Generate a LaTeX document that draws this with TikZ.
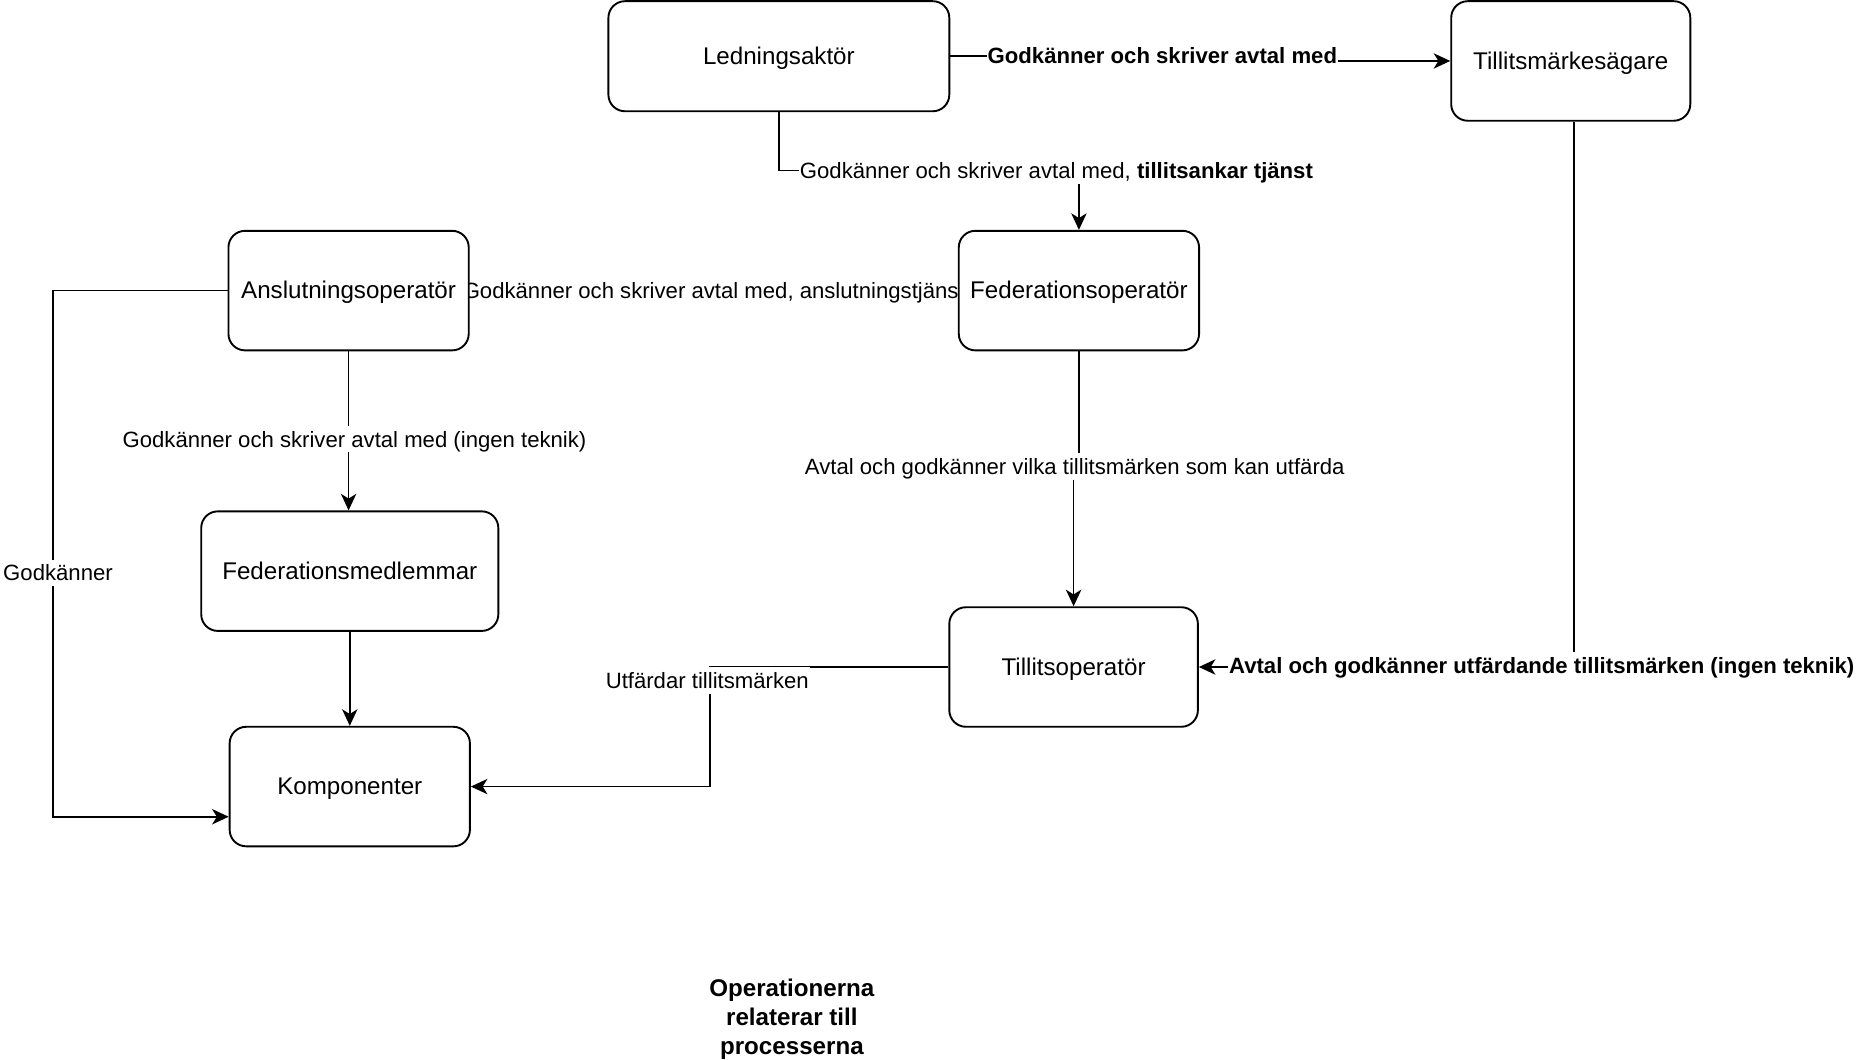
\documentclass[tikz,border=0pt]{standalone}
\usepackage{fontspec}
\setmainfont{Liberation Sans}
\usetikzlibrary{arrows.meta,backgrounds}
\begin{document}
\begin{tikzpicture}[x=1pt,y=-1pt,
  box/.style={draw, line width=1.6pt, rounded corners=14pt, fill=white, inner sep=0pt,
    text height=16pt, text depth=2.4pt,
    font=\fontsize{20.4}{24.5}\selectfont},
  conn/.style={line width=1.4pt},
  arr/.style={conn, -{Stealth[length=14pt,width=13pt,inset=4pt]}},
  lbl/.style={fill=white, inner sep=1pt, text height=17pt, text depth=3.4pt,
    font=\fontsize{18.7}{22}\selectfont},
  lblb/.style={lbl, font=\fontsize{18.7}{22}\selectfont\bfseries},
  note/.style={align=center, font=\fontsize{20.4}{24.5}\selectfont\bfseries}]
\useasboundingbox (0,0) rectangle (1568,895);

\node[box, minimum width=288pt, minimum height=93pt] (led) at (658,47.5) {Ledningsaktör};
\node[box, minimum width=202pt, minimum height=101pt] (tma) at (1327,51.5) {Tillitsmärkesägare};
\node[box, minimum width=203pt, minimum height=101pt] (fed) at (911.5,245.5) {Federationsoperatör};
\node[box, minimum width=203pt, minimum height=101pt] (ans) at (294.5,245.5) {Anslutningsoperatör};
\node[box, minimum width=251pt, minimum height=101pt] (fm) at (295.5,482.5) {Federationsmedlemmar};
\node[box, minimum width=203pt, minimum height=101pt] (komp) at (295.5,664.5) {Komponenter};
\node[box, minimum width=210pt, minimum height=101pt] (to) at (907,563.5) {Tillitsoperatör};
\node[note] (ops) at (669,861) {Operationerna\\relaterar till\\processerna};

% Ledningsaktör -> Tillitsmärkesägare
\draw[arr] (led.east) -- ++(180,0) |- (tma.west);
\node[lblb] (l1) at (982,46.5) {Godkänner och skriver avtal med};

% Ledningsaktör -> Federationsoperatör
\coordinate (b2) at (fed.north |- 0,144);
\draw[arr] (led.south) |- (b2) -- (fed.north);
\node[lbl] (l2) at (892.5,144) {Godkänner och skriver avtal med, \textbf{tillitsankar tjänst}};

% Anslutningsoperatör -- Federationsoperatör (label hidden partly behind boxes)
\begin{pgfonlayer}{background}
\draw[conn] (ans) -- (fed) node[midway, lbl] (l3) {Godkänner och skriver avtal med, anslutningstjänst};
\end{pgfonlayer}

% Anslutningsoperatör -> Federationsmedlemmar
\draw[arr] (ans.south) -- (ans.south |- fm.north);
\node[lbl] (l4) at (299.5,371) {Godkänner och skriver avtal med (ingen teknik)};

% Federationsmedlemmar -> Komponenter
\draw[arr] (fm.south) -- (komp.north);

% Anslutningsoperatör -> Komponenter (left loop)
\coordinate (c6) at (45,245.5);
\draw[arr] (ans.west) -- (c6) |- ([yshift=-25.5pt]komp.west);
\node[lbl] (l6) at (49,484) {Godkänner};

% Federationsoperatör -> Tillitsoperatör
\coordinate (c7) at (fed.south |- 0,394);
\draw[arr] (fed.south) -- (c7) -- (to.north |- c7) -- (to.north);
\node[lbl] (l7) at (908,394) {Avtal och godkänner vilka tillitsmärken som kan utfärda};

% Tillitsmärkesägare -> Tillitsoperatör
\coordinate (c8) at ([xshift=3pt]tma.south |- to.east);
\draw[arr] ([xshift=3pt]tma.south) -- (c8) -- (to.east);
\node[lblb] (l8) at (1302.5,562) {Avtal och godkänner utfärdande tillitsmärken (ingen teknik)};

% Tillitsoperatör -> Komponenter
\coordinate (c9) at (600,563.5);
\draw[arr] (to.west) -- (c9) |- (komp.east);
\node[lbl] (l9) at (597.5,575) {Utfärdar tillitsmärken};
\end{tikzpicture}
\end{document}
